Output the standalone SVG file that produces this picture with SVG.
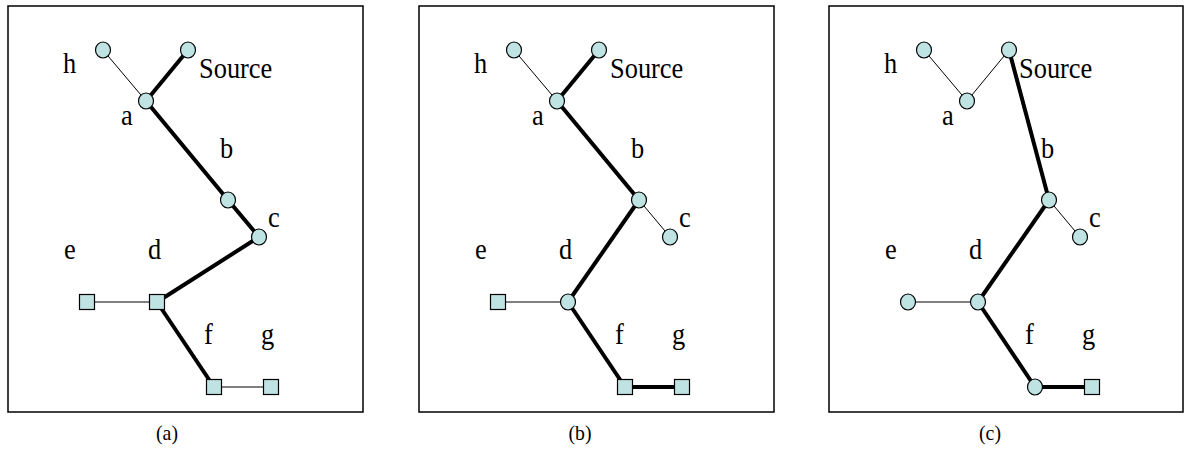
<svg xmlns="http://www.w3.org/2000/svg" width="1184" height="449" viewBox="0 0 1184 449">
<style>
.frame{fill:#fff;stroke:#000;stroke-width:1.5}
.thin{stroke:#000;stroke-width:1;fill:none}
.thick{stroke:#000;stroke-width:4;fill:none}
.nd{fill:#bfe3e3;stroke:#000;stroke-width:1.2}
.lbl{font-size:30px;fill:#000}
.cap{font-size:22px;fill:#000;text-anchor:middle}
</style>
<rect width="1184" height="449" fill="#fff"/>
<g id="frames">
<rect class="frame" x="8" y="6" width="355" height="406"/>
<rect class="frame" x="419" y="6" width="355" height="406"/>
<rect class="frame" x="829" y="6" width="354" height="406"/>
</g>
<g id="connectors">
<g transform="translate(0 0)">
<line class="thin" x1="103" y1="50" x2="146" y2="101"/>
<line class="thick" x1="188" y1="50" x2="146" y2="101"/>
<line class="thick" x1="146" y1="101" x2="228" y2="200"/>
<line class="thick" x1="228" y1="200" x2="259" y2="237"/>
<line class="thick" x1="259" y1="237" x2="157" y2="302"/>
<line class="thin" x1="87" y1="302" x2="157" y2="302"/>
<line class="thick" x1="157" y1="302" x2="214" y2="387"/>
<line class="thin" x1="214" y1="387" x2="271" y2="387"/>
</g>
<g transform="translate(411 0)">
<line class="thin" x1="103" y1="50" x2="146" y2="101"/>
<line class="thick" x1="188" y1="50" x2="146" y2="101"/>
<line class="thick" x1="146" y1="101" x2="228" y2="200"/>
<line class="thin" x1="228" y1="200" x2="259" y2="237"/>
<line class="thick" x1="228" y1="200" x2="157" y2="302"/>
<line class="thin" x1="87" y1="302" x2="157" y2="302"/>
<line class="thick" x1="157" y1="302" x2="214" y2="387"/>
<line class="thick" x1="214" y1="387" x2="271" y2="387"/>
</g>
<g transform="translate(821 0)">
<line class="thin" x1="103" y1="50" x2="146" y2="101"/>
<line class="thin" x1="146" y1="101" x2="188" y2="50"/>
<line class="thick" x1="188" y1="50" x2="228" y2="200"/>
<line class="thin" x1="228" y1="200" x2="259" y2="237"/>
<line class="thick" x1="228" y1="200" x2="157" y2="302"/>
<line class="thin" x1="87" y1="302" x2="157" y2="302"/>
<line class="thick" x1="157" y1="302" x2="214" y2="387"/>
<line class="thick" x1="214" y1="387" x2="271" y2="387"/>
</g>
</g>
<g font-family="Liberation Serif, Tinos, Times New Roman, DejaVu Serif, serif">
<g id="panel-a">
<g id="a-h"><ellipse class="nd" cx="103" cy="50" rx="7.5" ry="8"/><text class="lbl" transform="translate(63 73) scale(0.88 1)">h</text></g>
<g id="a-source"><ellipse class="nd" cx="188" cy="50" rx="7.5" ry="8"/><text class="lbl" transform="translate(199 78) scale(0.88 1)">Source</text></g>
<g id="a-a"><ellipse class="nd" cx="146" cy="101" rx="7.5" ry="8"/><text class="lbl" transform="translate(121 125) scale(0.88 1)">a</text></g>
<g id="a-b"><ellipse class="nd" cx="228" cy="200" rx="7.5" ry="8"/><text class="lbl" transform="translate(220 158) scale(0.88 1)">b</text></g>
<g id="a-c"><ellipse class="nd" cx="259" cy="237" rx="7.5" ry="8"/><text class="lbl" transform="translate(268 227) scale(0.88 1)">c</text></g>
<g id="a-d"><rect class="nd" x="149.5" y="294.5" width="15" height="15"/><text class="lbl" transform="translate(148 259) scale(0.88 1)">d</text></g>
<g id="a-e"><rect class="nd" x="79.5" y="294.5" width="15" height="15"/><text class="lbl" transform="translate(64 259) scale(0.88 1)">e</text></g>
<g id="a-f"><rect class="nd" x="206.5" y="379.5" width="15" height="15"/><text class="lbl" transform="translate(204 344) scale(0.88 1)">f</text></g>
<g id="a-g"><rect class="nd" x="263.5" y="379.5" width="15" height="15"/><text class="lbl" transform="translate(261 344) scale(0.88 1)">g</text></g>
<text class="cap" transform="translate(167 440) scale(0.9 1)">(a)</text>
</g>
<g id="panel-b" transform="translate(411 0)">
<g id="b-h"><ellipse class="nd" cx="103" cy="50" rx="7.5" ry="8"/><text class="lbl" transform="translate(63 73) scale(0.88 1)">h</text></g>
<g id="b-source"><ellipse class="nd" cx="188" cy="50" rx="7.5" ry="8"/><text class="lbl" transform="translate(199 78) scale(0.88 1)">Source</text></g>
<g id="b-a"><ellipse class="nd" cx="146" cy="101" rx="7.5" ry="8"/><text class="lbl" transform="translate(121 125) scale(0.88 1)">a</text></g>
<g id="b-b"><ellipse class="nd" cx="228" cy="200" rx="7.5" ry="8"/><text class="lbl" transform="translate(220 158) scale(0.88 1)">b</text></g>
<g id="b-c"><ellipse class="nd" cx="259" cy="237" rx="7.5" ry="8"/><text class="lbl" transform="translate(268 227) scale(0.88 1)">c</text></g>
<g id="b-d"><ellipse class="nd" cx="157" cy="302" rx="7.5" ry="8"/><text class="lbl" transform="translate(148 259) scale(0.88 1)">d</text></g>
<g id="b-e"><rect class="nd" x="79.5" y="294.5" width="15" height="15"/><text class="lbl" transform="translate(64 259) scale(0.88 1)">e</text></g>
<g id="b-f"><rect class="nd" x="206.5" y="379.5" width="15" height="15"/><text class="lbl" transform="translate(204 344) scale(0.88 1)">f</text></g>
<g id="b-g"><rect class="nd" x="263.5" y="379.5" width="15" height="15"/><text class="lbl" transform="translate(261 344) scale(0.88 1)">g</text></g>
<text class="cap" transform="translate(169 440) scale(0.9 1)">(b)</text>
</g>
<g id="panel-c" transform="translate(821 0)">
<g id="c-h"><ellipse class="nd" cx="103" cy="50" rx="7.5" ry="8"/><text class="lbl" transform="translate(63 73) scale(0.88 1)">h</text></g>
<g id="c-source"><ellipse class="nd" cx="188" cy="50" rx="7.5" ry="8"/><text class="lbl" transform="translate(198 78) scale(0.88 1)">Source</text></g>
<g id="c-a"><ellipse class="nd" cx="146" cy="101" rx="7.5" ry="8"/><text class="lbl" transform="translate(121 125) scale(0.88 1)">a</text></g>
<g id="c-b"><ellipse class="nd" cx="228" cy="200" rx="7.5" ry="8"/><text class="lbl" transform="translate(220 158) scale(0.88 1)">b</text></g>
<g id="c-c"><ellipse class="nd" cx="259" cy="237" rx="7.5" ry="8"/><text class="lbl" transform="translate(268 227) scale(0.88 1)">c</text></g>
<g id="c-d"><ellipse class="nd" cx="157" cy="302" rx="7.5" ry="8"/><text class="lbl" transform="translate(148 259) scale(0.88 1)">d</text></g>
<g id="c-e"><ellipse class="nd" cx="87" cy="302" rx="7.5" ry="8"/><text class="lbl" transform="translate(64 259) scale(0.88 1)">e</text></g>
<g id="c-f"><ellipse class="nd" cx="214" cy="387" rx="7.5" ry="8"/><text class="lbl" transform="translate(204 344) scale(0.88 1)">f</text></g>
<g id="c-g"><rect class="nd" x="263.5" y="379.5" width="15" height="15"/><text class="lbl" transform="translate(261 344) scale(0.88 1)">g</text></g>
<text class="cap" transform="translate(169 440) scale(0.9 1)">(c)</text>
</g>
</g>
</svg>
